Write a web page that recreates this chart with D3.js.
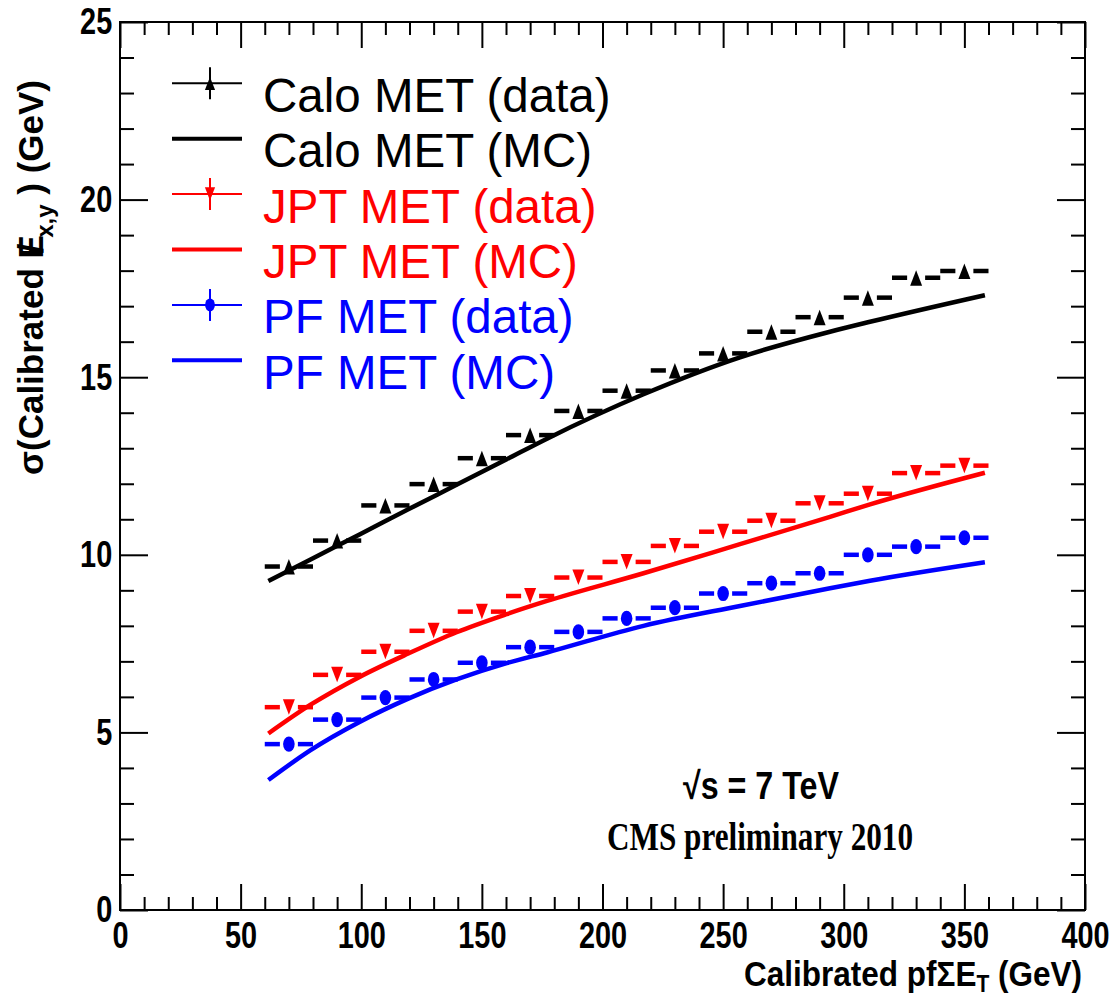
<!DOCTYPE html>
<html>
<head>
<meta charset="utf-8">
<script src="https://cdn.jsdelivr.net/npm/d3@7"></script>
<style>
  html, body { margin: 0; padding: 0; background: #fff; }
  svg { display: block; }
  text { font-family: "Liberation Sans", Arial, Helvetica, sans-serif; }
</style>
</head>
<body>
<svg id="chart" width="1113" height="998"></svg>
<script>
// ---------------- DATA ----------------
const binCenters = [70, 90, 110, 130, 150, 170, 190, 210, 230, 250, 270, 290, 310, 330, 350];
const binHalfWidth = 10;
const caloData = [9.67, 10.40, 11.39, 11.99, 12.72, 13.37, 14.05, 14.62, 15.19, 15.67, 16.28, 16.69, 17.24, 17.80, 17.99];
const jptData  = [5.71, 6.62, 7.27, 7.86, 8.40, 8.84, 9.36, 9.80, 10.25, 10.65, 10.96, 11.45, 11.72, 12.30, 12.51];
const pfData   = [4.67, 5.36, 5.98, 6.49, 6.96, 7.40, 7.83, 8.21, 8.51, 8.91, 9.20, 9.48, 10.00, 10.23, 10.48];

const mcX    = [61.5, 79, 99.5, 119.5, 139.5, 160.3, 177, 217, 257, 294.3, 310.9, 358.5];
const caloMC = [9.26, 9.87, 10.58, 11.28, 11.97, 12.69, 13.27, 14.52, 15.56, 16.28, 16.56, 17.31];
const jptMC  = [4.97, 5.78, 6.57, 7.22, 7.82, 8.33, 8.70, 9.48, 10.30, 11.07, 11.42, 12.31];
const pfMC   = [3.66, 4.50, 5.30, 5.95, 6.49, 6.95, 7.25, 8.00, 8.56, 9.06, 9.27, 9.79];

const xMajorTicks = [0, 50, 100, 150, 200, 250, 300, 350, 400];
const yMajorTicks = [0, 5, 10, 15, 20, 25];
const legendLabels = ["Calo MET (data)", "Calo MET (MC)", "JPT MET (data)", "JPT MET (MC)", "PF MET (data)", "PF MET (MC)"];

// ---------------- LAYOUT ----------------
const svg = d3.select("#chart");
const L = 120, R = 1085, T = 22, B = 910;
const x = d3.scaleLinear().domain([0, 400]).range([L, R]);
const y = d3.scaleLinear().domain([0, 25]).range([B, T]);

const colors = { calo: "#000000", jpt: "#ff0000", pf: "#0000ff" };

const series = [
  { key: "calo", data: caloData, mc: caloMC, marker: "up" },
  { key: "jpt",  data: jptData,  mc: jptMC,  marker: "down" },
  { key: "pf",   data: pfData,   mc: pfMC,   marker: "circle" }
];

function drawMarker(g, type, cx, cy, color, s) {
  s = s || 1;
  if (type === "up") {
    g.append("path")
      .attr("d", `M${cx},${cy - 7.5 * s} L${cx + 6 * s},${cy + 8 * s} L${cx - 6 * s},${cy + 8 * s} Z`)
      .attr("fill", color);
  } else if (type === "down") {
    g.append("path")
      .attr("d", `M${cx},${cy + 7.5 * s} L${cx + 6 * s},${cy - 8 * s} L${cx - 6 * s},${cy - 8 * s} Z`)
      .attr("fill", color);
  } else {
    g.append("ellipse").attr("cx", cx).attr("cy", cy).attr("rx", 5.8 * s).attr("ry", 7.6 * s).attr("fill", color);
  }
}

// ---------------- AXES ----------------
const axisG = svg.append("g");

function styleAxis(g) {
  g.select(".domain").remove();
  g.selectAll(".tick line").attr("stroke", "#000").attr("stroke-width", 2);
}

const minorX = d3.range(0, 401, 10).filter(v => v % 50 !== 0);
const minorY = d3.range(0, 26, 1).filter(v => v % 5 !== 0);

// bottom
const xb = axisG.append("g").attr("transform", `translate(0,${B})`)
  .call(d3.axisBottom(x).tickValues(xMajorTicks).tickSize(-26).tickPadding(12).tickFormat(d3.format("d")));
styleAxis(xb);
xb.selectAll("text").attr("font-size", 37).attr("font-weight", "bold").attr("fill", "#000")
  .attr("transform", "scale(0.78,1)");
axisG.append("g").attr("transform", `translate(0,${B})`)
  .call(d3.axisBottom(x).tickValues(minorX).tickSize(-13).tickFormat(""))
  .call(styleAxis);
// top
axisG.append("g").attr("transform", `translate(0,${T})`)
  .call(d3.axisTop(x).tickValues(xMajorTicks).tickSize(-26).tickFormat(""))
  .call(styleAxis);
axisG.append("g").attr("transform", `translate(0,${T})`)
  .call(d3.axisTop(x).tickValues(minorX).tickSize(-13).tickFormat(""))
  .call(styleAxis);
// left
const yl = axisG.append("g").attr("transform", `translate(${L},0)`)
  .call(d3.axisLeft(y).tickValues(yMajorTicks).tickSize(-28).tickPadding(10).tickFormat(d3.format("d")));
styleAxis(yl);
yl.selectAll("text").attr("font-size", 37).attr("font-weight", "bold").attr("fill", "#000")
  .attr("transform", "scale(0.78,1)");
axisG.append("g").attr("transform", `translate(${L},0)`)
  .call(d3.axisLeft(y).tickValues(minorY).tickSize(-14).tickFormat(""))
  .call(styleAxis);
// right
axisG.append("g").attr("transform", `translate(${R},0)`)
  .call(d3.axisRight(y).tickValues(yMajorTicks).tickSize(-28).tickFormat(""))
  .call(styleAxis);
axisG.append("g").attr("transform", `translate(${R},0)`)
  .call(d3.axisRight(y).tickValues(minorY).tickSize(-14).tickFormat(""))
  .call(styleAxis);

// frame
axisG.append("rect").attr("x", L).attr("y", T).attr("width", R - L).attr("height", B - T)
  .attr("fill", "none").attr("stroke", "#000").attr("stroke-width", 2);

// ---------------- MC CURVES ----------------
const line = d3.line().curve(d3.curveMonotoneX);
series.forEach(s => {
  const pts = mcX.map((xv, i) => [x(xv), y(s.mc[i])]);
  svg.append("path").attr("d", line(pts)).attr("fill", "none")
    .attr("stroke", colors[s.key]).attr("stroke-width", 4.5).attr("stroke-linecap", "butt");
});

// ---------------- DATA POINTS ----------------
series.forEach(s => {
  const g = svg.append("g");
  const c = colors[s.key];
  binCenters.forEach((xv, i) => {
    const cx = x(xv), cy = y(s.data[i]);
    g.append("line").attr("x1", x(xv - binHalfWidth)).attr("x2", cx - 9).attr("y1", cy).attr("y2", cy)
      .attr("stroke", c).attr("stroke-width", 4.5);
    g.append("line").attr("x1", cx + 9).attr("x2", x(xv + binHalfWidth)).attr("y1", cy).attr("y2", cy)
      .attr("stroke", c).attr("stroke-width", 4.5);
    drawMarker(g, s.marker, cx, cy, c, 1);
  });
});

// ---------------- LEGEND ----------------
const lg = svg.append("g");
const legendColors = [colors.calo, colors.calo, colors.jpt, colors.jpt, colors.pf, colors.pf];
const legendMarkers = ["up", null, "down", null, "circle", null];
legendLabels.forEach((lab, i) => {
  const ly = 83.3 + i * 55.4;
  const c = legendColors[i];
  if (legendMarkers[i]) {
    lg.append("line").attr("x1", 172).attr("x2", 242).attr("y1", ly).attr("y2", ly).attr("stroke", c).attr("stroke-width", 2);
    lg.append("line").attr("x1", 210).attr("x2", 210).attr("y1", ly - 16).attr("y2", ly + 16).attr("stroke", c).attr("stroke-width", 2);
    drawMarker(lg, legendMarkers[i], 210, ly, c, 0.85);
  } else {
    lg.append("line").attr("x1", 172).attr("x2", 242).attr("y1", ly).attr("y2", ly).attr("stroke", c).attr("stroke-width", 4);
  }
  lg.append("text").attr("x", 263).attr("y", ly + 28.5).attr("font-size", 47.5).attr("fill", c).text(lab);
});

// ---------------- TEXTS ----------------
svg.append("text").attr("x", 683).attr("y", 799).attr("font-size", 38).attr("font-weight", "bold")
  .attr("textLength", 156).attr("lengthAdjust", "spacingAndGlyphs").text("\u221As = 7 TeV");
svg.append("text").attr("x", 607).attr("y", 850).attr("font-size", 40).attr("font-weight", "bold")
  .style("font-family", "'Liberation Serif', 'Times New Roman', serif")
  .attr("textLength", 306).attr("lengthAdjust", "spacingAndGlyphs").text("CMS preliminary 2010");

// X axis title
const xt = svg.append("text").attr("font-size", 36).attr("font-weight", "bold").attr("text-anchor", "end")
  .attr("transform", "translate(1082,986) scale(0.875,1)");
xt.append("tspan").text("Calibrated pf\u03A3E");
xt.append("tspan").attr("font-size", 24).attr("dy", 6).text("T");
xt.append("tspan").attr("dy", -6).text(" (GeV)");

// Y axis title
const yt = svg.append("text").attr("font-size", 35).attr("font-weight", "bold").attr("text-anchor", "end")
  .attr("transform", "translate(43,80) rotate(-90)");
yt.append("tspan").text("\u03C3(Calibrated ");
yt.append("tspan").text("E");
yt.append("tspan").attr("dx", "-0.52em").text("/");
yt.append("tspan").attr("dx", "0.24em").attr("dy", 10).attr("font-size", 24).text("x,y");
yt.append("tspan").attr("dy", -10).text(" ) (GeV)");
</script>
</body>
</html>
